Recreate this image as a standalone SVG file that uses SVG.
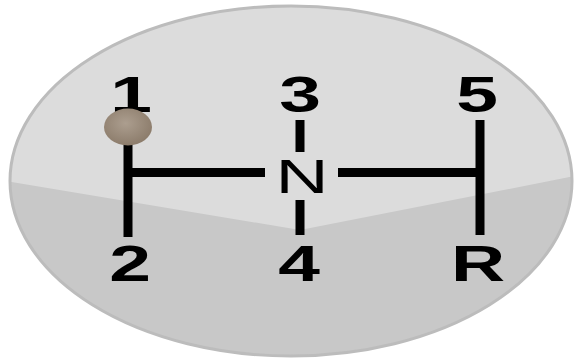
<svg xmlns="http://www.w3.org/2000/svg" width="575" height="361" viewBox="0 0 575 361">
<defs>
<clipPath id="ov"><ellipse cx="291" cy="181" rx="281" ry="175"/></clipPath>
<radialGradient id="knob" cx="0.45" cy="0.4" r="0.6">
<stop offset="0" stop-color="#ac9e8f"/>
<stop offset="1" stop-color="#8c7c6b"/>
</radialGradient>
</defs>
<style>
.lbl{font-family:"Liberation Sans",Arial,sans-serif;font-weight:bold;font-size:50px;fill:#000;text-anchor:middle}
.n{font-family:"Liberation Sans",Arial,sans-serif;font-size:49px;fill:#000;text-anchor:middle}
.gate{stroke:#000;stroke-width:9;fill:none}
</style>
<g id="plate">
<ellipse cx="291" cy="181" rx="281" ry="175" fill="#dcdcdc"/>
<polygon points="0,180 300,230 575,176 575,361 0,361" fill="#c8c8c8" clip-path="url(#ov)"/>
<ellipse cx="291" cy="181" rx="281" ry="175" fill="none" stroke="#bcbcbc" stroke-width="3"/>
</g>
<g id="connectors">
<path class="gate" d="M128,110 V237 M128,172.5 H265 M338,172.5 H480 M480,120 V235 M300,120 V152 M300,200 V235"/>
</g>
<g id="g1"><text class="lbl" transform="translate(131,112) scale(1.5,1)">1</text></g>
<g id="g3"><text class="lbl" transform="translate(300,112) scale(1.5,1)">3</text></g>
<g id="g5"><text class="lbl" transform="translate(477,112) scale(1.5,1)">5</text></g>
<g id="gN"><text class="n" transform="translate(302,193) scale(1.5,1)">N</text></g>
<g id="g2"><text class="lbl" transform="translate(130,281) scale(1.5,1)">2</text></g>
<g id="g4"><text class="lbl" transform="translate(299,281) scale(1.5,1)">4</text></g>
<g id="gR"><text class="lbl" transform="translate(478,281) scale(1.5,1)">R</text></g>
<g id="knob-node"><ellipse cx="128" cy="127" rx="24" ry="18.5" fill="url(#knob)"/></g>
</svg>
